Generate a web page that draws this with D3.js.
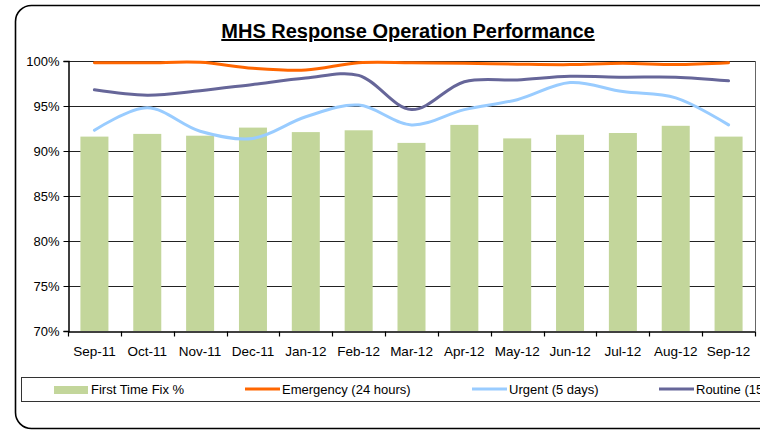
<!DOCTYPE html>
<html>
<head>
<meta charset="utf-8">
<script src="https://cdn.jsdelivr.net/npm/d3@7"></script>
<style>
  body { margin: 0; background: #fff; }
  svg { display: block; font-family: Arial, "Liberation Sans", sans-serif; }
</style>
</head>
<body>
<svg id="chart" width="760" height="431"></svg>
<script>
const months = ['Sep-11', 'Oct-11', 'Nov-11', 'Dec-11', 'Jan-12', 'Feb-12', 'Mar-12',
    'Apr-12', 'May-12', 'Jun-12', 'Jul-12', 'Aug-12', 'Sep-12'];
const firstTimeFix = [91.6, 91.9, 91.7, 92.6, 92.1, 92.3, 90.9, 92.9, 91.4, 91.8, 92.0, 92.8, 91.6];
const emergency = [99.8, 99.8, 99.85, 99.2, 99.0, 99.8, 99.8, 99.75, 99.65, 99.6, 99.75, 99.6, 99.8];
const urgent = [92.3, 94.8, 92.2, 91.4, 93.8, 95.1, 92.9, 94.6, 95.7, 97.6, 96.6, 95.9, 92.9];
const routine = [96.8, 96.2, 96.7, 97.4, 98.1, 98.4, 94.6, 97.7, 97.9, 98.3, 98.2, 98.2, 97.8];
const yTicks = [70, 75, 80, 85, 90, 95, 100];

const svg = d3.select('#chart');

const plot = { left: 68, right: 755, top: 61, bottom: 331 };

// outer frame
svg.append('rect')
    .attr('x', 15.5).attr('y', 5.5)
    .attr('width', 820).attr('height', 423)
    .attr('rx', 16).attr('ry', 16)
    .attr('fill', 'none')
    .attr('stroke', '#000')
    .attr('stroke-width', 1.6);

// title
svg.append('text')
    .attr('x', 408).attr('y', 38)
    .attr('text-anchor', 'middle')
    .attr('font-size', 20).attr('font-weight', 'bold')
    .attr('text-decoration', 'underline')
    .text('MHS Response Operation Performance');

const x = d3.scaleBand()
    .domain(months)
    .range([plot.left, plot.right])
    .padding(0);

const y = d3.scaleLinear()
    .domain([70, 100])
    .range([plot.bottom, plot.top]);

const barW = x.bandwidth() * 0.53;

// gridlines
svg.append('g')
    .selectAll('line')
    .data(yTicks.slice(1))
    .enter()
    .append('line')
    .attr('x1', plot.left).attr('x2', plot.right)
    .attr('y1', d => Math.round(y(d)) + 0.5)
    .attr('y2', d => Math.round(y(d)) + 0.5)
    .attr('stroke', '#222')
    .attr('stroke-width', 1);

// right border of plot area
svg.append('line')
    .attr('x1', plot.right + 0.5).attr('x2', plot.right + 0.5)
    .attr('y1', plot.top).attr('y2', plot.bottom)
    .attr('stroke', '#666');

// bars
svg.append('g')
    .selectAll('rect')
    .data(firstTimeFix)
    .enter()
    .append('rect')
    .attr('x', (d, i) => x(months[i]) + (x.bandwidth() - barW) / 2)
    .attr('y', d => y(d))
    .attr('width', barW)
    .attr('height', d => y(70) - y(d))
    .attr('fill', '#C3D69B');

// smoothed lines
const line = d3.line()
    .x((d, i) => x(months[i]) + x.bandwidth() / 2)
    .y(d => y(d))
    .curve(d3.curveCatmullRom.alpha(0.5));

const series = [
    { name: 'Emergency (24 hours)', values: emergency, color: '#FF6600' },
    { name: 'Urgent (5 days)', values: urgent, color: '#99CCFF' },
    { name: 'Routine (15 days)', values: routine, color: '#666699' }
];

series.forEach(s => {
    svg.append('path')
        .datum(s.values)
        .attr('d', line)
        .attr('fill', 'none')
        .attr('stroke', s.color)
        .attr('stroke-width', 3)
        .attr('stroke-linejoin', 'round')
        .attr('stroke-linecap', 'round');
});

// y axis
const yAxis = svg.append('g')
    .attr('transform', `translate(${plot.left + 0.5},0)`)
    .call(d3.axisLeft(y).tickValues(yTicks).tickFormat(d => d + '%').tickSize(5).tickPadding(4));
yAxis.select('.domain').attr('stroke', '#000').attr('stroke-width', 1.5);
yAxis.selectAll('text').attr('font-size', 13).attr('font-family', 'Arial, "Liberation Sans", sans-serif').attr('fill', '#000');

// x axis
const xAxis = svg.append('g')
    .attr('transform', `translate(0,${plot.bottom + 0.5})`)
    .call(d3.axisBottom(x).tickSize(0).tickPadding(15));
xAxis.select('.domain').attr('stroke', '#000').attr('stroke-width', 1.5);
xAxis.selectAll('text').attr('font-size', 13.5).attr('font-family', 'Arial, "Liberation Sans", sans-serif').attr('fill', '#000');

// x ticks between categories
xAxis.append('g')
    .selectAll('line')
    .data(months.concat(['end']))
    .enter()
    .append('line')
    .attr('x1', (d, i) => Math.round(plot.left + i * x.bandwidth()) + 0.5)
    .attr('x2', (d, i) => Math.round(plot.left + i * x.bandwidth()) + 0.5)
    .attr('y1', 0).attr('y2', 5)
    .attr('stroke', '#000')
    .attr('stroke-width', 1.2);

// legend
const legend = svg.append('g');
legend.append('rect')
    .attr('x', 21.5).attr('y', 377.5)
    .attr('width', 800).attr('height', 24)
    .attr('fill', 'none')
    .attr('stroke', '#333')
    .attr('stroke-width', 1);

const legendItems = [
    { name: 'First Time Fix %', color: '#C3D69B', type: 'bar', x: 54 },
    { name: series[0].name, color: series[0].color, type: 'line', x: 245 },
    { name: series[1].name, color: series[1].color, type: 'line', x: 472 },
    { name: series[2].name, color: series[2].color, type: 'line', x: 659 }
];

legendItems.forEach(item => {
    if (item.type === 'bar') {
        legend.append('rect')
            .attr('x', item.x).attr('y', 386)
            .attr('width', 34).attr('height', 8)
            .attr('fill', item.color);
    } else {
        legend.append('line')
            .attr('x1', item.x).attr('x2', item.x + 35)
            .attr('y1', 389).attr('y2', 389)
            .attr('stroke', item.color)
            .attr('stroke-width', 3);
    }
    legend.append('text')
        .attr('x', item.x + 37).attr('y', 394)
        .attr('font-size', 13)
        .text(item.name);
});
</script>
</body>
</html>
